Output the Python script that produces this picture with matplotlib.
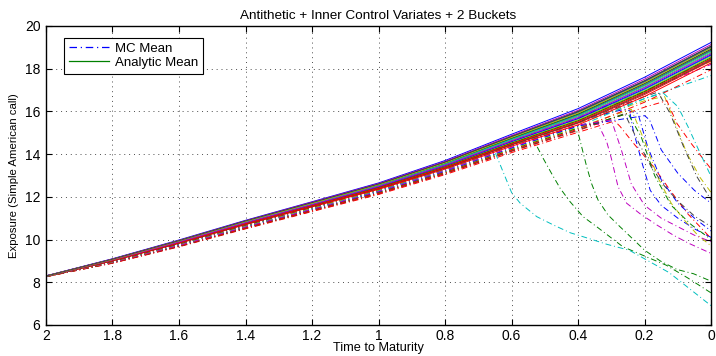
import matplotlib
matplotlib.use("Agg")
import matplotlib.pyplot as plt

plt.rcParams['font.family'] = ['Liberation Sans', 'DejaVu Sans']

# time to maturity nodes (years), counting down to expiry
t_nodes = [2.0, 1.8, 1.6, 1.4, 1.2, 1.0, 0.8, 0.6, 0.4, 0.2, 0.0]

# analytic mean exposure per scenario, on t_nodes
an_b1 = [8.30, 9.10, 9.98, 10.90, 11.77, 12.65, 13.70, 14.93, 16.13, 17.60, 19.23]
an_g1 = [8.29, 9.08, 9.95, 10.86, 11.72, 12.59, 13.62, 14.82, 15.98, 17.42, 19.04]
an_r1 = [8.26, 9.00, 9.82, 10.70, 11.53, 12.35, 13.30, 14.37, 15.37, 16.70, 18.27]
an_c1 = [8.28, 9.05, 9.90, 10.80, 11.65, 12.50, 13.50, 14.65, 15.75, 17.15, 18.75]
an_m1 = [8.29, 9.07, 9.92, 10.83, 11.69, 12.55, 13.56, 14.73, 15.86, 17.29, 18.89]
an_y1 = [8.28, 9.06, 9.91, 10.81, 11.66, 12.52, 13.52, 14.68, 15.79, 17.20, 18.80]
an_k1 = [8.28, 9.06, 9.92, 10.82, 11.67, 12.53, 13.54, 14.71, 15.83, 17.24, 18.85]
an_b2 = [8.29, 9.08, 9.94, 10.85, 11.71, 12.58, 13.60, 14.79, 15.94, 17.38, 18.99]
an_g2 = [8.29, 9.07, 9.93, 10.84, 11.69, 12.55, 13.57, 14.75, 15.88, 17.31, 18.92]
an_r2 = [8.26, 9.01, 9.84, 10.72, 11.55, 12.38, 13.34, 14.43, 15.45, 16.79, 18.37]
an_c2 = [8.27, 9.04, 9.88, 10.77, 11.61, 12.46, 13.44, 14.57, 15.64, 17.02, 18.61]
an_m2 = [8.30, 9.09, 9.96, 10.88, 11.75, 12.62, 13.66, 14.87, 16.05, 17.51, 19.13]
an_y2 = [8.27, 9.03, 9.87, 10.76, 11.60, 12.44, 13.42, 14.54, 15.60, 16.97, 18.56]
an_k2 = [8.27, 9.02, 9.84, 10.73, 11.57, 12.40, 13.36, 14.45, 15.48, 16.84, 18.41]
an_b3 = [8.28, 9.04, 9.88, 10.78, 11.63, 12.47, 13.46, 14.59, 15.67, 17.06, 18.65]
an_g3 = [8.27, 9.03, 9.86, 10.75, 11.59, 12.43, 13.40, 14.51, 15.56, 16.93, 18.51]
an_r3 = [8.27, 9.02, 9.85, 10.74, 11.58, 12.41, 13.38, 14.48, 15.52, 16.88, 18.46]
an_c3 = [8.28, 9.06, 9.91, 10.82, 11.67, 12.52, 13.53, 14.69, 15.81, 17.22, 18.82]
an_m3 = [8.28, 9.05, 9.89, 10.79, 11.64, 12.49, 13.48, 14.62, 15.71, 17.11, 18.70]
an_y3 = [8.29, 9.07, 9.94, 10.85, 11.70, 12.57, 13.59, 14.78, 15.92, 17.35, 18.97]
an_k3 = [8.29, 9.08, 9.95, 10.87, 11.73, 12.60, 13.63, 14.83, 16.00, 17.44, 19.06]

# Monte Carlo mean exposure per scenario (times, values)
mc_b1_t = [2.0, 1.8, 1.6, 1.4, 1.2, 1.0, 0.8, 0.6, 0.4, 0.3, 0.25, 0.234, 0.208, 0.183, 0.15, 0.1, 0.05, 0.0]
mc_b1_v = [8.30, 8.99, 9.82, 10.70, 11.55, 12.41, 13.44, 14.63, 15.78, 16.35, 16.40, 15.10, 13.60, 12.30, 11.60, 11.00, 10.50, 10.10]
mc_g1_t = [2.0, 1.8, 1.6, 1.4, 1.2, 1.0, 0.8, 0.6, 0.54, 0.505, 0.48, 0.454, 0.424, 0.385, 0.344, 0.266, 0.196, 0.135, 0.07, 0.0]
mc_g1_v = [8.29, 8.97, 9.79, 10.66, 11.50, 12.35, 13.36, 14.52, 14.85, 13.80, 13.10, 12.40, 11.77, 11.07, 10.60, 9.67, 9.20, 8.80, 8.20, 7.50]
mc_r1_t = [2.0, 1.8, 1.6, 1.4, 1.2, 1.0, 0.8, 0.6, 0.4, 0.29, 0.274, 0.233, 0.173, 0.123, 0.07, 0.0]
mc_r1_v = [8.26, 8.89, 9.66, 10.50, 11.31, 12.11, 13.04, 14.07, 15.02, 15.55, 15.30, 14.50, 13.40, 12.30, 11.20, 10.05]
mc_c1_t = [2.0, 1.8, 1.6, 1.4, 1.2, 1.0, 0.8, 0.65, 0.6, 0.574, 0.524, 0.474, 0.424, 0.37, 0.314, 0.246, 0.126, 0.0]
mc_c1_v = [8.28, 8.94, 9.74, 10.60, 11.43, 12.26, 13.24, 14.10, 12.20, 11.70, 11.07, 10.68, 10.32, 10.06, 9.78, 9.50, 8.45, 6.90]
mc_m1_t = [2.0, 1.8, 1.6, 1.4, 1.2, 1.0, 0.8, 0.6, 0.4, 0.34, 0.314, 0.30, 0.28, 0.254, 0.213, 0.163, 0.113, 0.068, 0.0]
mc_m1_v = [8.29, 8.96, 9.76, 10.63, 11.47, 12.31, 13.30, 14.43, 15.35, 15.40, 14.58, 13.80, 12.48, 11.70, 11.20, 10.68, 10.20, 9.83, 9.35]
mc_y1_t = [2.0, 1.8, 1.6, 1.4, 1.2, 1.0, 0.8, 0.6, 0.4, 0.2, 0.14, 0.1, 0.073, 0.033, 0.0]
mc_y1_v = [8.28, 8.95, 9.75, 10.61, 11.44, 12.28, 13.26, 14.38, 15.44, 16.50, 16.70, 15.10, 14.04, 12.90, 12.20]
mc_k1_t = [2.0, 1.8, 1.6, 1.4, 1.2, 1.0, 0.8, 0.6, 0.4, 0.2, 0.16, 0.123, 0.083, 0.043, 0.0]
mc_k1_v = [8.28, 8.95, 9.76, 10.62, 11.45, 12.29, 13.28, 14.41, 15.48, 16.70, 16.90, 15.90, 14.35, 12.95, 11.85]
mc_b2_t = [2.0, 1.8, 1.6, 1.4, 1.2, 1.0, 0.8, 0.6, 0.4, 0.26, 0.22, 0.19, 0.15, 0.1, 0.05, 0.0]
mc_b2_v = [8.29, 8.97, 9.78, 10.65, 11.49, 12.34, 13.34, 14.49, 15.59, 16.10, 15.90, 14.30, 12.80, 11.70, 11.00, 10.40]
mc_g2_t = [2.0, 1.8, 1.6, 1.4, 1.2, 1.0, 0.8, 0.6, 0.42, 0.4, 0.374, 0.359, 0.34, 0.31, 0.274, 0.2, 0.153, 0.103, 0.053, 0.0]
mc_g2_v = [8.29, 8.96, 9.77, 10.64, 11.47, 12.31, 13.31, 14.45, 15.20, 15.00, 13.40, 12.60, 11.85, 11.15, 10.60, 9.50, 9.00, 8.60, 8.40, 8.05]
mc_r2_t = [2.0, 1.8, 1.6, 1.4, 1.2, 1.0, 0.8, 0.6, 0.4, 0.2, 0.133, 0.103, 0.06, 0.0]
mc_r2_v = [8.26, 8.90, 9.68, 10.52, 11.33, 12.14, 13.08, 14.13, 15.10, 16.20, 16.50, 15.44, 14.50, 13.30]
mc_c2_t = [2.0, 1.8, 1.6, 1.4, 1.2, 1.0, 0.8, 0.6, 0.4, 0.2, 0.0]
mc_c2_v = [8.27, 8.93, 9.72, 10.57, 11.39, 12.22, 13.18, 14.27, 15.29, 16.60, 17.68]
mc_m2_t = [2.0, 1.8, 1.6, 1.4, 1.2, 1.0, 0.8, 0.6, 0.4, 0.2, 0.0]
mc_m2_v = [8.30, 8.98, 9.80, 10.68, 11.53, 12.38, 13.40, 14.57, 15.70, 16.95, 18.20]
mc_y2_t = [2.0, 1.8, 1.6, 1.4, 1.2, 1.0, 0.8, 0.6, 0.4, 0.24, 0.2, 0.16, 0.12, 0.08, 0.04, 0.0]
mc_y2_v = [8.27, 8.92, 9.71, 10.56, 11.38, 12.20, 13.16, 14.24, 15.25, 16.10, 14.60, 12.90, 11.70, 10.90, 10.20, 9.70]
mc_k2_t = [2.0, 1.8, 1.6, 1.4, 1.2, 1.0, 0.8, 0.6, 0.4, 0.26, 0.22, 0.18, 0.14, 0.1, 0.05, 0.0]
mc_k2_v = [8.27, 8.91, 9.68, 10.53, 11.35, 12.16, 13.10, 14.15, 15.13, 15.90, 14.60, 13.40, 12.50, 11.80, 11.10, 10.60]
mc_b3_t = [2.0, 1.8, 1.6, 1.4, 1.2, 1.0, 0.8, 0.6, 0.4, 0.2, 0.185, 0.15, 0.1, 0.05, 0.0]
mc_b3_v = [8.28, 8.93, 9.72, 10.58, 11.41, 12.23, 13.20, 14.29, 15.32, 15.80, 15.60, 14.20, 13.10, 12.30, 11.70]
mc_g3_t = [2.0, 1.8, 1.6, 1.4, 1.2, 1.0, 0.8, 0.6, 0.4, 0.25, 0.21, 0.17, 0.12, 0.06, 0.0]
mc_g3_v = [8.27, 8.92, 9.70, 10.55, 11.37, 12.19, 13.14, 14.21, 15.21, 15.90, 14.80, 13.00, 11.60, 10.70, 10.00]
mc_r3_t = [2.0, 1.8, 1.6, 1.4, 1.2, 1.0, 0.8, 0.6, 0.4, 0.2, 0.0]
mc_r3_v = [8.27, 8.91, 9.69, 10.54, 11.36, 12.17, 13.12, 14.18, 15.17, 16.43, 17.95]
mc_c3_t = [2.0, 1.8, 1.6, 1.4, 1.2, 1.0, 0.8, 0.6, 0.4, 0.2, 0.144, 0.1, 0.07, 0.033, 0.0]
mc_c3_v = [8.28, 8.95, 9.75, 10.62, 11.45, 12.28, 13.27, 14.39, 15.46, 16.60, 16.86, 16.22, 15.30, 14.04, 12.95]
mc_m3_t = [2.0, 1.8, 1.6, 1.4, 1.2, 1.0, 0.8, 0.6, 0.4, 0.3, 0.27, 0.24, 0.2, 0.15, 0.1, 0.05, 0.0]
mc_m3_v = [8.28, 8.94, 9.73, 10.59, 11.42, 12.25, 13.22, 14.32, 15.36, 15.60, 14.20, 12.60, 11.60, 11.00, 10.60, 10.20, 9.90]
mc_y3_t = [2.0, 1.8, 1.6, 1.4, 1.2, 1.0, 0.8, 0.6, 0.4, 0.2, 0.0]
mc_y3_v = [8.29, 8.96, 9.78, 10.65, 11.48, 12.33, 13.33, 14.48, 15.57, 16.90, 18.35]
mc_k3_t = [2.0, 1.8, 1.6, 1.4, 1.2, 1.0, 0.8, 0.6, 0.4, 0.2, 0.0]
mc_k3_v = [8.29, 8.97, 9.79, 10.67, 11.51, 12.36, 13.37, 14.53, 15.65, 16.95, 18.45]

# old MATLAB line colour order: b g r c m y k
colors = [(0, 0, 1), (0, 0.5, 0), (1, 0, 0), (0, 0.75, 0.75),
          (0.75, 0, 0.75), (0.75, 0.75, 0), (0.25, 0.25, 0.25)]

analytic = [an_b1, an_g1, an_r1, an_c1, an_m1, an_y1, an_k1,
            an_b2, an_g2, an_r2, an_c2, an_m2, an_y2, an_k2,
            an_b3, an_g3, an_r3, an_c3, an_m3, an_y3, an_k3]
mc = [(mc_b1_t, mc_b1_v), (mc_g1_t, mc_g1_v), (mc_r1_t, mc_r1_v), (mc_c1_t, mc_c1_v),
      (mc_m1_t, mc_m1_v), (mc_y1_t, mc_y1_v), (mc_k1_t, mc_k1_v),
      (mc_b2_t, mc_b2_v), (mc_g2_t, mc_g2_v), (mc_r2_t, mc_r2_v), (mc_c2_t, mc_c2_v),
      (mc_m2_t, mc_m2_v), (mc_y2_t, mc_y2_v), (mc_k2_t, mc_k2_v),
      (mc_b3_t, mc_b3_v), (mc_g3_t, mc_g3_v), (mc_r3_t, mc_r3_v), (mc_c3_t, mc_c3_v),
      (mc_m3_t, mc_m3_v), (mc_y3_t, mc_y3_v), (mc_k3_t, mc_k3_v)]

dashdot = (0, (6, 3, 1, 3))

fig = plt.figure(figsize=(7.16, 3.56), dpi=100)
ax = fig.add_axes([0.0642, 0.0871, 0.929, 0.84])

mc_lines = []
for i, (tt, vv) in enumerate(mc):
    ln, = ax.plot(tt, vv, color=colors[i % 7], lw=0.7, linestyle=dashdot)
    mc_lines.append(ln)

an_lines = []
for i, vals in enumerate(analytic):
    ln, = ax.plot(t_nodes, vals, color=colors[i % 7], lw=0.7, linestyle='-')
    an_lines.append(ln)

ax.set_xlim(2, 0)
ax.set_ylim(6, 20)
ax.set_xticks([2, 1.8, 1.6, 1.4, 1.2, 1, 0.8, 0.6, 0.4, 0.2, 0])
ax.set_xticklabels(['2', '1.8', '1.6', '1.4', '1.2', '1', '0.8', '0.6', '0.4', '0.2', '0'])
ax.set_yticks(range(6, 21, 2))
ax.grid(True, linestyle=(0, (1, 4)), color='0.3', lw=0.7)
ax.tick_params(direction='in', length=4, width=0.8, top=True, right=True,
               labelsize=10)
ax.tick_params(axis='x', pad=3)
ax.tick_params(axis='y', pad=4)
for sp in ax.spines.values():
    sp.set_linewidth(1.0)

ax.set_title('Antithetic + Inner Control Variates + 2 Buckets', fontsize=9.7, pad=5)
ax.set_xlabel('Time to Maturity', fontsize=9.2, labelpad=-1)
ax.set_ylabel('Exposure (Simple American call)', fontsize=8.2, labelpad=4)

leg = ax.legend([mc_lines[0], an_lines[1]], ['MC Mean', 'Analytic Mean'],
                loc='upper left', bbox_to_anchor=(0.027, 0.96), borderaxespad=0,
                fontsize=9.5, fancybox=False, edgecolor='black', framealpha=1,
                handlelength=3.1, borderpad=0.35, labelspacing=0.15, handletextpad=0.4)
leg.get_frame().set_linewidth(0.8)
for h in leg.get_lines():
    h.set_linewidth(0.9)

fig.savefig('out.png', dpi=100)
